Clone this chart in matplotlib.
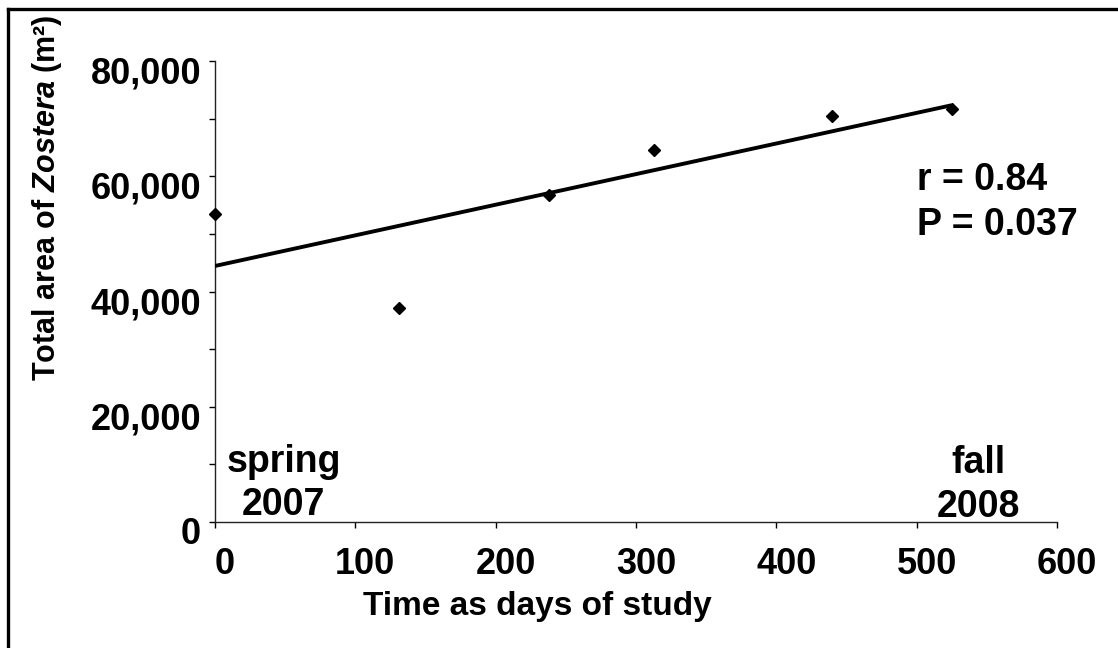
import numpy as np
import matplotlib
matplotlib.use("Agg")
from matplotlib import pyplot as plt
from matplotlib.lines import Line2D
from matplotlib.ticker import MultipleLocator, FuncFormatter
import matplotlib.transforms as mtransforms

# data
days = [0, 131, 238, 313, 440, 525]
area = [53500, 37100, 56700, 64600, 70500, 71700]
x_ticks = [0, 100, 200, 300, 400, 500, 600]
stats_lines = ["r = 0.84", "P = 0.037"]

plt.rcParams['font.family'] = ['Liberation Sans', 'DejaVu Sans']
plt.rcParams['font.weight'] = 'bold'
plt.rcParams['mathtext.fontset'] = 'custom'
plt.rcParams['mathtext.rm'] = 'Liberation Sans:bold'
plt.rcParams['mathtext.it'] = 'Liberation Sans:italic:bold'
plt.rcParams['mathtext.bf'] = 'Liberation Sans:bold'

fig = plt.figure(figsize=(11.18, 6.48), dpi=100)
ax = fig.add_axes([215/1118, 1 - 522/648, (1057-215)/1118, (522-61)/648])

# points and regression line
ax.plot(days, area, linestyle='none', marker='D', ms=6, color='black', clip_on=False, zorder=4)
slope, icpt = np.polyfit(days, area, 1)
xs = np.array([0, max(days)])
ax.plot(xs, icpt + slope*xs, color='black', lw=2.8, solid_capstyle='butt', zorder=3)

ax.set_xlim(0, 600)
ax.set_ylim(0, 80000)
ax.set_xticks(x_ticks)
ax.yaxis.set_major_locator(MultipleLocator(20000))
ax.yaxis.set_minor_locator(MultipleLocator(10000))
ax.yaxis.set_major_formatter(FuncFormatter(lambda v, p: f"{int(v):,}"))

for s in ['top', 'right']:
    ax.spines[s].set_visible(False)
for s in ['left', 'bottom']:
    ax.spines[s].set_linewidth(1.0)
    ax.spines[s].set_color('#222222')

ax.tick_params(axis='y', which='both', direction='out', length=4, width=1, labelsize=26, pad=6)
ax.tick_params(axis='x', direction='out', length=4, width=1, labelsize=26, pad=14)

# excel-ish label offsets
dy = mtransforms.ScaledTranslation(0, -9/100, fig.dpi_scale_trans)
for lab in ax.get_yticklabels():
    lab.set_transform(lab.get_transform() + dy)
dx = mtransforms.ScaledTranslation(10/100, 0, fig.dpi_scale_trans)
for lab in ax.get_xticklabels():
    lab.set_transform(lab.get_transform() + dx)

# season notes
ax.text(49, 8680, "spring", ha='center', va='baseline', fontsize=27)
ax.text(49, 1215, "2007", ha='center', va='baseline', fontsize=27)
ax.text(544, 8500, "fall", ha='center', va='baseline', fontsize=27)
ax.text(544, 870, "2008", ha='center', va='baseline', fontsize=27)

# stats
ax.text(500, 57600, stats_lines[0], ha='left', va='baseline', fontsize=27)
ax.text(500, 49800, stats_lines[1], ha='left', va='baseline', fontsize=27)

fig.text(537/1118, 1 - 615/648, "Time as days of study", ha='center', va='baseline', fontsize=24)
fig.text(47/1118, 1 - 198/648, r"Total area of $Zostera$ (m²)", rotation=90,
         ha='center', va='center', fontsize=22)

# frame around the picture (only left/top visible in the crop)
fig.add_artist(Line2D([8/1118, 8/1118], [0, 1 - 9/648], transform=fig.transFigure, color='black', lw=2.4))
fig.add_artist(Line2D([8/1118, 1], [1 - 9/648, 1 - 9/648], transform=fig.transFigure, color='black', lw=2.4))

fig.savefig("out.png", dpi=100)
